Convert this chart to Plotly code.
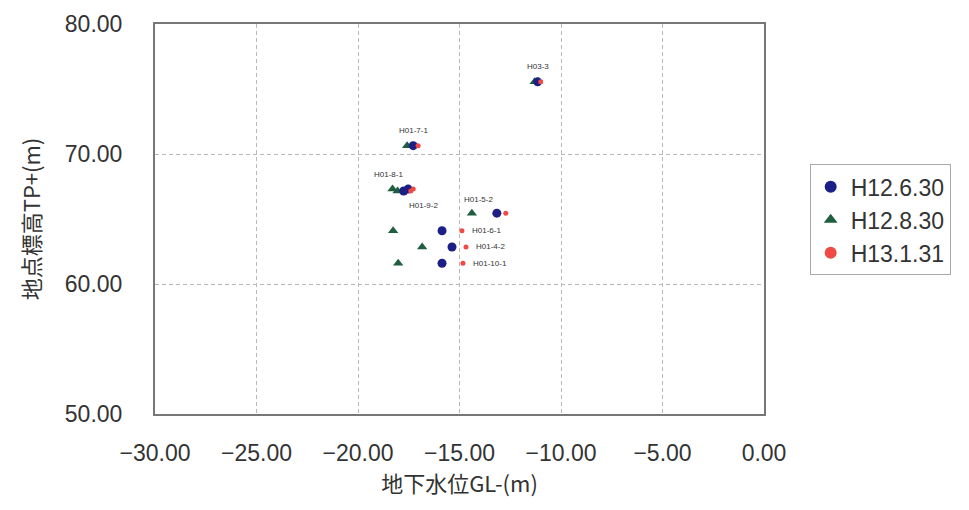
import plotly.graph_objects as go

# Site labels (one per observation row)
sites = ["H03-3", "H01-7-1", "H01-8-1", "H01-9-2", "H01-5-2", "H01-6-1", "H01-4-2", "H01-10-1"]
# Ground elevation TP+(m) per site
elev = [75.55, 70.64, 67.30, 67.15, 65.45, 64.10, 62.85, 61.60]
# Groundwater level GL-(m) per survey date
gw_h12_6_30 = [-11.15, -17.28, -17.53, -17.75, -13.16, -15.86, -15.37, -15.86]
gw_h12_8_30 = [-11.30, -17.58, -18.30, -18.05, -14.39, -18.27, -16.84, -18.02]
gw_h13_1_31 = [-11.00, -17.04, -17.28, -17.40, -12.72, -14.88, -14.68, -14.83]
series_names = ["H12.6.30", "H12.8.30", "H13.1.31"]

x_ticks = [-30, -25, -20, -15, -10, -5, 0]
y_ticks = [50, 60, 70, 80]

BLUE = "#1c1f85"
GREEN = "#1f5f40"
RED = "#f04a44"

fig = go.Figure()
fig.add_trace(go.Scatter(x=gw_h12_8_30, y=elev, mode="markers", name=series_names[1],
                         marker=dict(symbol="triangle-up", size=9, color=GREEN),
                         showlegend=False))
fig.add_trace(go.Scatter(x=gw_h12_6_30, y=elev, mode="markers", name=series_names[0],
                         marker=dict(symbol="circle", size=9, color=BLUE),
                         showlegend=False))
fig.add_trace(go.Scatter(x=gw_h13_1_31, y=elev, mode="markers", name=series_names[2],
                         marker=dict(symbol="circle", size=5, color=RED),
                         showlegend=False))
# legend-only entries in original order
for nm, sym, col, sz in [(series_names[0], "circle", BLUE, 6),
                         (series_names[1], "triangle-up", GREEN, 6),
                         (series_names[2], "circle", RED, 5)]:
    fig.add_trace(go.Scatter(x=[None], y=[None], mode="markers", name=nm,
                             marker=dict(symbol=sym, size=sz, color=col)))

# site labels: (anchor series, xanchor, xshift, yshift)
label_style = {
    "H03-3": ("blue", "center", 0, 15),
    "H01-7-1": ("blue", "center", 0, 15),
    "H01-8-1": ("blue", "center", -20, 15),
    "H01-9-2": ("blue", "center", 20, -14),
    "H01-5-2": ("green", "left", -10, 14),
    "H01-6-1": ("red", "left", 8, 0),
    "H01-4-2": ("red", "left", 8, 0),
    "H01-10-1": ("red", "left", 8, 0),
}
label_font = dict(size=8, color="#333333", family="Liberation Sans, Arial")
for i, s in enumerate(sites):
    ser, xa, xs, ys = label_style[s]
    xv = {"blue": gw_h12_6_30, "green": gw_h12_8_30, "red": gw_h13_1_31}[ser][i]
    fig.add_annotation(x=xv, y=elev[i], text=s, showarrow=False,
                       xanchor=xa, xshift=xs, yshift=ys, font=label_font)

axis_common = dict(
    showgrid=True, gridcolor="#b8b8b8", griddash="4px,3px", gridwidth=1,
    showline=True, linecolor="#777777", linewidth=2, mirror=True,
    zeroline=False, ticks="", tickformat=".2f",
    tickfont=dict(size=23, color="#333333", family="Liberation Sans, Arial"),
)

fig.update_layout(
    width=969, height=510,
    margin=dict(l=147, r=213, t=16, b=104, autoexpand=False),
    paper_bgcolor="white", plot_bgcolor="white",
    font=dict(family="Liberation Sans, Arial", color="#333333"),
    legend=dict(x=1.075, y=0.64, xanchor="left", yanchor="top",
                bordercolor="#aaaaaa", borderwidth=1, itemwidth=30,
                tracegroupgap=0,
                font=dict(size=23, color="#333333"), itemsizing="constant"),
    xaxis=dict(range=[-30, 0], tickvals=x_ticks, ticklabelstandoff=17,
               title=dict(text="地下水位GL-(m)",
                          font=dict(size=22, family="Noto Sans CJK JP", color="#333333"),
                          standoff=6),
               **axis_common),
    yaxis=dict(range=[50, 80], tickvals=y_ticks, ticklabelstandoff=26,
               title=dict(text="地点標高TP+(m)",
                          font=dict(size=22, family="Noto Sans CJK JP", color="#333333"),
                          standoff=18),
               **axis_common),
)

fig.write_html("out.html")
